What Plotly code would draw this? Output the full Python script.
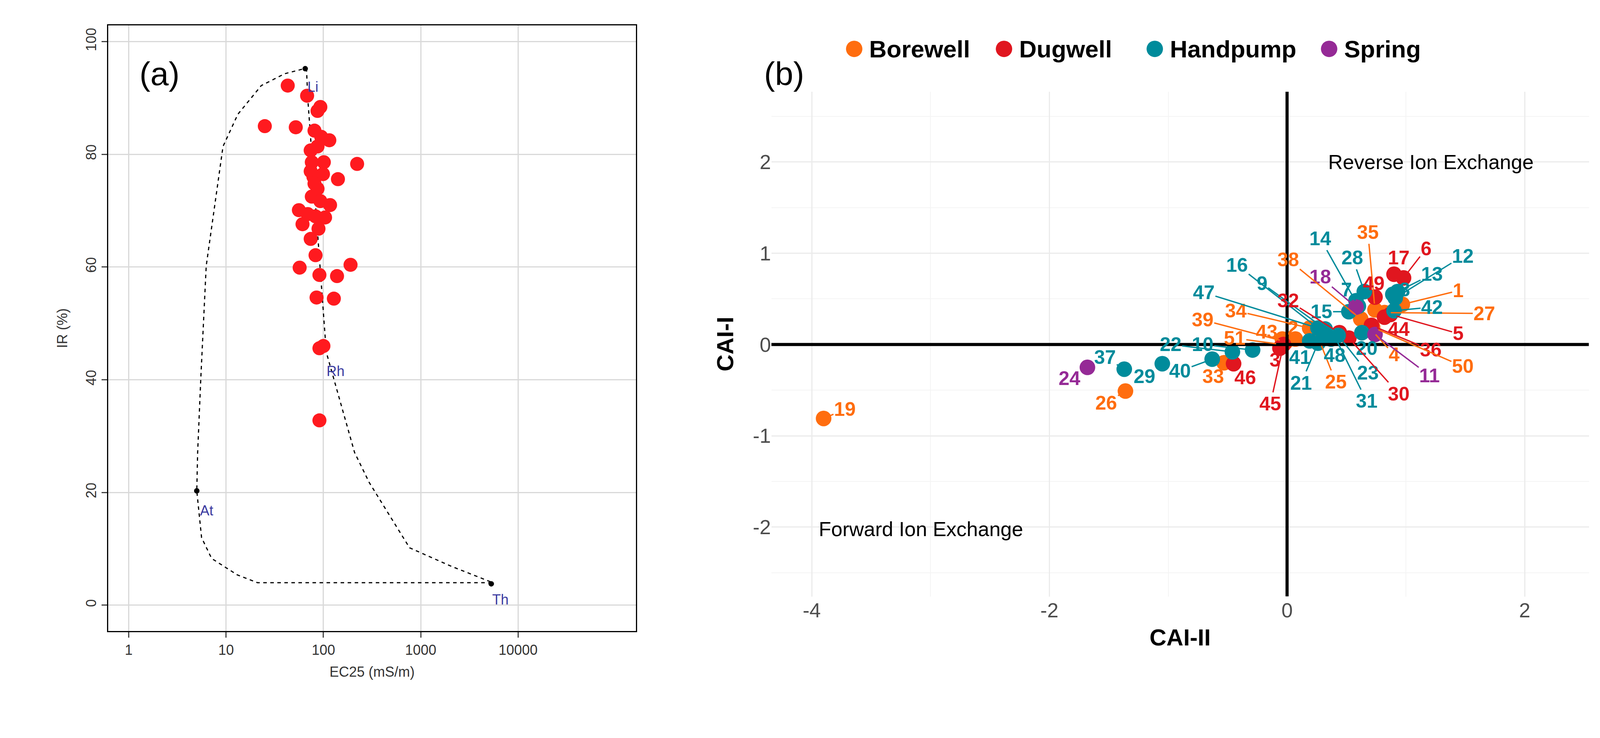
import math
import plotly.graph_objects as go

# ---------- Panel (a) data ----------
ec25 = [43, 68, 93, 87, 25, 52, 81, 115, 95, 74, 87, 222, 76, 101, 99, 141, 79, 87, 76, 117,
        93, 56, 104, 83, 61, 89, 74, 83, 57, 91, 190, 138, 85, 128, 100, 91, 91, 74, 69, 81]
ir = [92.2, 90.4, 88.4, 87.7, 85.0, 84.8, 84.2, 82.5, 83.1, 80.7, 81.4, 78.3, 78.6, 78.6, 76.5,
      75.6, 76.0, 73.9, 72.5, 71.0, 71.7, 70.1, 68.8, 69.0, 67.6, 66.8, 65.0, 62.1, 59.9, 58.6,
      60.4, 58.4, 54.6, 54.4, 46.0, 45.6, 32.8, 77.0, 69.4, 74.8]

bound_ec = [67, 69, 107, 209, 295, 767, 2000, 5500, 2000, 300, 21, 13, 7.1, 5.6, 5.0, 5.1, 5.5, 6.25, 9.3, 13.2, 23, 40, 67]
bound_ir = [95.3, 90, 44.9, 27.1, 21.8, 10.2, 7, 4.0, 4.0, 4.0, 4.0, 5.4, 8.3, 12, 20.3, 27, 40.3, 60.2, 81.4, 87.1, 92.2, 94.3, 95.3]
end_ec = [65, 5.0, 5300]
end_ir = [95.2, 20.3, 3.8]
end_names = ["Li", "Rh", "At", "Th"]
end_lab_ec = [78, 133, 6.3, 6600]
end_lab_ir = [92.0, 41.5, 16.8, 1.0]

# ---------- Panel (b) data ----------
ids = list(range(1, 52))
types = ["B","B","D","B","D","D","H","H","H","H","S","H","H","H","H","H","D","S","B","H",
         "H","H","H","S","B","B","B","H","H","D","H","D","B","B","B","D","H","B","B","H",
         "H","H","B","D","D","D","H","H","D","B","B"]
cai2 = [0.97,0.07,-0.06,0.71,0.87,0.98,0.58,0.89,0.32,-0.29,0.74,0.91,0.93,0.60,0.52,0.30,0.90,0.58,-3.90,0.63,
        0.26,-0.46,0.43,-1.68,0.27,-1.36,0.82,0.65,-1.05,0.52,0.40,0.44,-0.53,0.19,0.74,0.71,-1.37,0.62,-0.01,-0.63,
        0.19,0.90,-0.04,0.82,-0.03,-0.45,0.26,0.37,0.74,0.72,-0.04]
cai1 = [0.44,0.06,-0.04,0.16,0.33,0.73,0.48,0.55,0.17,-0.06,0.11,0.51,0.58,0.42,0.36,0.14,0.77,0.41,-0.81,0.13,
        0.015,-0.08,0.10,-0.25,0.05,-0.51,0.35,0.58,-0.21,0.07,0.09,0.13,-0.20,0.18,0.38,0.21,-0.27,0.28,0.03,-0.16,
        0.04,0.37,0.06,0.30,0.0,-0.21,0.18,0.06,0.52,0.19,0.0]
lab_x = [1.44,0.05,-0.10,0.90,1.44,1.17,0.50,0.99,-0.21,-0.71,1.20,1.48,1.22,0.28,0.29,-0.42,0.94,0.28,-3.72,0.67,
         0.12,-0.98,0.68,-1.83,0.41,-1.52,1.66,0.55,-1.20,0.94,0.67,0.01,-0.62,-0.43,0.68,1.21,-1.53,0.01,-0.71,-0.90,
         0.11,1.22,-0.17,0.94,-0.14,-0.35,-0.70,0.40,0.73,1.48,-0.44]
lab_y = [0.59,0.18,-0.17,-0.11,0.12,1.05,0.60,0.60,0.67,0.0,-0.34,0.97,0.77,1.16,0.36,0.87,0.95,0.74,-0.71,-0.04,
         -0.42,0.0,-0.31,-0.37,-0.41,-0.64,0.34,0.95,-0.35,-0.54,-0.62,0.48,-0.35,0.37,1.23,-0.06,-0.14,0.93,0.27,-0.29,
         -0.14,0.41,0.14,0.17,-0.65,-0.36,0.57,-0.12,0.67,-0.24,0.07]

cat_order = ["B", "D", "H", "S"]
cat_names = {"B": "Borewell", "D": "Dugwell", "H": "Handpump", "S": "Spring"}
cat_colors = {"B": "#ff6d0f", "D": "#e0161f", "H": "#008b9b", "S": "#952a96"}
legend_x = [0.534, 0.628, 0.7226, 0.832]   # paper x of legend dots
LEG_Y = 0.938

FONT = "Liberation Sans, Arial, sans-serif"
fig = go.Figure()

# Panel a
fig.add_trace(go.Scatter(x=bound_ec, y=bound_ir, mode="lines", line=dict(color="black", width=3, dash="dash"),
                         showlegend=False, xaxis="x", yaxis="y"))
fig.add_trace(go.Scatter(x=ec25, y=ir, mode="markers", marker=dict(color="#ff1a1f", size=36),
                         showlegend=False, xaxis="x", yaxis="y"))
fig.add_trace(go.Scatter(x=end_ec, y=end_ir, mode="markers", marker=dict(color="black", size=14),
                         showlegend=False, xaxis="x", yaxis="y"))
for n, ex, ey in zip(end_names, end_lab_ec, end_lab_ir):
    fig.add_annotation(x=math.log10(ex), y=ey, xref="x", yref="y", text=n, showarrow=False,
                       font=dict(family=FONT, size=36, color="#3a3aa0"))

# Panel b
for c in cat_order:
    idx = [i for i, t in enumerate(types) if t == c]
    fig.add_trace(go.Scatter(x=[cai2[i] for i in idx], y=[cai1[i] for i in idx], mode="markers",
                             name=cat_names[c], marker=dict(color=cat_colors[c], size=40),
                             showlegend=False, xaxis="x2", yaxis="y2"))
for i in range(len(ids)):
    col = cat_colors[types[i]]
    fig.add_annotation(x=cai2[i], y=cai1[i], ax=lab_x[i], ay=lab_y[i], xref="x2", yref="y2",
                       axref="x2", ayref="y2", text="<b>%d</b>" % ids[i], showarrow=True, arrowhead=0,
                       arrowwidth=3.5, arrowcolor=col, standoff=16,
                       font=dict(family=FONT, size=50, color=col))

# manual legend
for c, lx in zip(cat_order, legend_x):
    fig.add_shape(type="circle", xref="paper", yref="paper", xsizemode="pixel", ysizemode="pixel",
                  xanchor=lx, yanchor=LEG_Y, x0=-21, x1=21, y0=-21, y1=21,
                  fillcolor=cat_colors[c], line=dict(width=0))
    fig.add_annotation(x=lx + 0.009, y=LEG_Y, xref="paper", yref="paper", xanchor="left", yanchor="middle",
                       text="<b>%s</b>" % cat_names[c], showarrow=False,
                       font=dict(family=FONT, size=62, color="black"))

fig.add_shape(type="line", x0=0, x1=0, y0=-2.76, y1=2.77, xref="x2", yref="y2", line=dict(color="black", width=8))
fig.add_shape(type="line", x0=-4.34, x1=2.54, y0=0, y1=0, xref="x2", yref="y2", line=dict(color="black", width=8))

fig.add_annotation(x=1.21, y=2.0, xref="x2", yref="y2", text="Reverse Ion Exchange", showarrow=False,
                   font=dict(family=FONT, size=52, color="black"))
fig.add_annotation(x=-3.08, y=-2.02, xref="x2", yref="y2", text="Forward Ion Exchange", showarrow=False,
                   font=dict(family=FONT, size=52, color="black"))
fig.add_annotation(x=0.085, y=0.93, xref="paper", yref="paper", text="(a)", showarrow=False,
                   font=dict(family=FONT, size=84, color="black"))
fig.add_annotation(x=0.49, y=0.93, xref="paper", yref="paper", text="(b)", showarrow=False,
                   font=dict(family=FONT, size=84, color="black"))

fig.update_layout(
    autosize=True, margin=dict(l=0, r=0, t=0, b=0),
    paper_bgcolor="white", plot_bgcolor="white",
    font=dict(family=FONT),
    showlegend=False,
    xaxis=dict(domain=[0.066, 0.397], type="log", range=[-0.21, 5.21],
               tickvals=[1, 10, 100, 1000, 10000], ticktext=["1", "10", "100", "1000", "10000"],
               showgrid=True, gridcolor="#d9d9d9", gridwidth=3, zeroline=False,
               showline=True, linecolor="black", linewidth=3, mirror=True, ticks="outside",
               ticklen=14, tickwidth=3, tickfont=dict(size=36, color="#333333"),
               title=dict(text="EC25 (mS/m)", font=dict(size=36, color="#333333"), standoff=25)),
    yaxis=dict(domain=[0.149, 0.97], range=[-4.6, 102.9], tickvals=[0, 20, 40, 60, 80, 100],
               tickangle=-90, showgrid=True, gridcolor="#d9d9d9", gridwidth=3, zeroline=False,
               showline=True, linecolor="black", linewidth=3, mirror=True, ticks="outside",
               ticklen=14, tickwidth=3, tickfont=dict(size=36, color="#333333"),
               title=dict(text="IR (%)", font=dict(size=36, color="#333333"), standoff=30)),
    xaxis2=dict(domain=[0.482, 0.995], range=[-4.34, 2.54], tickvals=[-4, -2, 0, 2],
                ticktext=["-4", "-2", "0", "2"],
                showgrid=True, gridcolor="#ebebeb", gridwidth=3, zeroline=False,
                minor=dict(dtick=1, tick0=0, showgrid=True, gridcolor="#f4f4f4", gridwidth=2),
                tickfont=dict(size=52, color="#4d4d4d"), anchor="y2",
                title=dict(text="<b>CAI-II</b>", font=dict(size=60, color="black"), standoff=20)),
    yaxis2=dict(domain=[0.196, 0.88], range=[-2.76, 2.77], tickvals=[-2, -1, 0, 1, 2],
                ticktext=["-2", "-1", "0", "1", "2"],
                showgrid=True, gridcolor="#ebebeb", gridwidth=3, zeroline=False,
                minor=dict(dtick=0.5, tick0=0, showgrid=True, gridcolor="#f4f4f4", gridwidth=2),
                tickfont=dict(size=52, color="#4d4d4d"), anchor="x2",
                title=dict(text="<b>CAI-I</b>", font=dict(size=60, color="black"), standoff=30)),
)
fig.write_html("out.html", default_width="100%", default_height="100vh")
